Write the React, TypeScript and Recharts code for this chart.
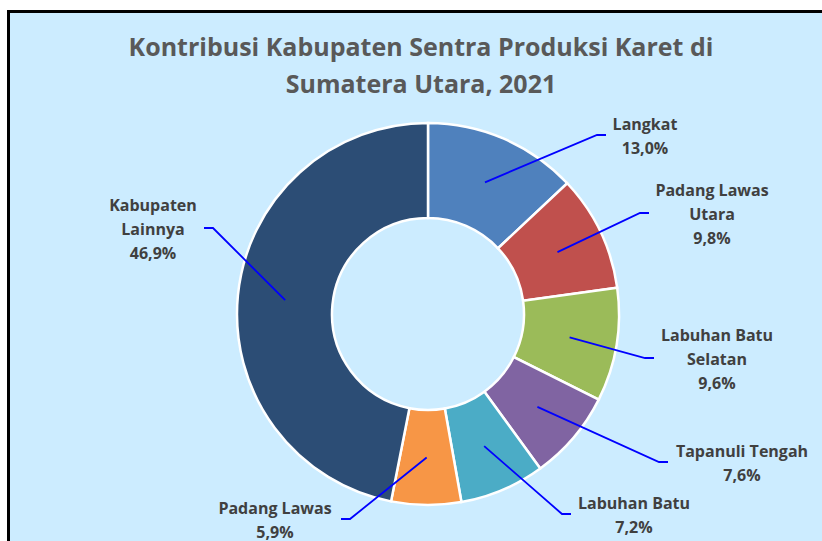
import React from 'react';
import { PieChart, Pie, Cell } from 'recharts';

const categories = [
  'Langkat',
  'Padang Lawas\nUtara',
  'Labuhan Batu\nSelatan',
  'Tapanuli Tengah',
  'Labuhan Batu',
  'Padang Lawas',
  'Kabupaten\nLainnya',
];
const shares = [13.0, 9.8, 9.6, 7.6, 7.2, 5.9, 46.9];
const colors = ['#4F81BD', '#C0504D', '#9BBB59', '#8064A2', '#4BACC6', '#F79646', '#2C4D75'];
const titleLines = ['Kontribusi Kabupaten Sentra Produksi Karet di', 'Sumatera Utara, 2021'];

// where each leader line bends (relative to the pie centre) and where its text sits
const labelLayout = [
  { ex: 169, ey: -179, tx: 217 },
  { ex: 212, ey: -101, tx: 284 },
  { ex: 217, ey: 44, tx: 289 },
  { ex: 231, ey: 148, tx: 314 },
  { ex: 134, ey: 200, tx: 206 },
  { ex: -78, ey: 205, tx: -153 },
  { ex: -215, ey: -86, tx: -275 },
];

const data = categories.map((name, i) => ({ name, value: shares[i] }));

const RADIAN = Math.PI / 180;
const FONT = "'Open Sans', 'Noto Sans', sans-serif";

const renderLabel = (props: any) => {
  const { cx, cy, midAngle, innerRadius, outerRadius, index, name, value } = props;
  const r = (innerRadius + outerRadius) / 2;
  const sx = cx + r * Math.cos(-midAngle * RADIAN);
  const sy = cy + r * Math.sin(-midAngle * RADIAN);
  const lay = labelLayout[index];
  const ex = cx + lay.ex;
  const ey = cy + lay.ey;
  const dir = lay.tx > lay.ex ? 1 : -1;
  const hx = ex + dir * 9;
  const lines = [...String(name).split('\n'), value.toFixed(1).replace('.', ',') + '%'];
  const lh = 24;
  const top = ey + 1 - ((lines.length - 1) * lh) / 2;
  return (
    <g>
      <polyline points={`${sx},${sy} ${ex},${ey} ${hx},${ey}`} fill="none" stroke="#0000FF" strokeWidth={1.8} />
      <text
        x={cx + lay.tx}
        y={top}
        textAnchor="middle"
        fill="#404040"
        fontFamily={FONT}
        fontWeight={700}
        fontSize={16}
      >
        {lines.map((l, i) => (
          <tspan key={i} x={cx + lay.tx} y={top + i * lh} dy="0.35em">
            {l}
          </tspan>
        ))}
      </text>
    </g>
  );
};

export default function App() {
  return (
    <div style={{ position: 'absolute', left: 0, top: 0, width: 822, height: 541, overflow: 'hidden', background: '#fff' }}>
      <div
        style={{
          position: 'absolute',
          left: 7,
          top: 10,
          width: 840,
          height: 560,
          background: '#CCECFF',
          borderLeft: '3px solid #000',
          borderTop: '3px solid #000',
        }}
      />
      <svg width={822} height={541} style={{ position: 'absolute', left: 0, top: 0 }}>
        {titleLines.map((t, i) => (
          <text
            key={i}
            x={421}
            y={56 + i * 37}
            textAnchor="middle"
            fill="#595959"
            fontFamily={FONT}
            fontWeight={700}
            fontSize={25}
          >
            {t}
          </text>
        ))}
      </svg>
      <div style={{ position: 'absolute', left: 0, top: 0 }}>
        <PieChart width={822} height={541} margin={{ top: 0, right: 0, bottom: 0, left: 0 }}>
          <Pie
            data={data}
            dataKey="value"
            nameKey="name"
            cx={428}
            cy={314}
            innerRadius={96}
            outerRadius={191}
            startAngle={90}
            endAngle={-270}
            stroke="#FFFFFF"
            strokeWidth={2.5}
            label={renderLabel}
            labelLine={false}
            isAnimationActive={false}
          >
            {data.map((d, i) => (
              <Cell key={d.name} fill={colors[i]} />
            ))}
          </Pie>
        </PieChart>
      </div>
    </div>
  );
}
